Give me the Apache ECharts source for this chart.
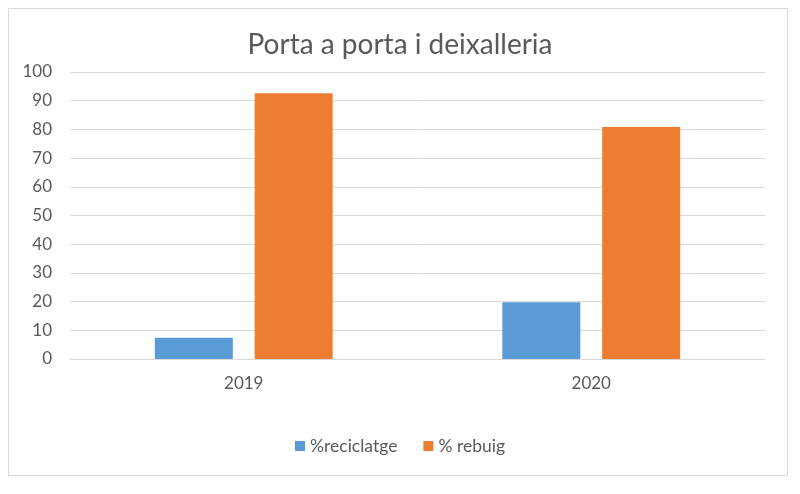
<!DOCTYPE html>
<html>
<head>
<meta charset="utf-8">
<script src="https://cdn.jsdelivr.net/npm/echarts@6/dist/echarts.min.js"></script>
<style>
html,body{margin:0;padding:0;background:#fff;}
#c{width:800px;height:494px;}
</style>
</head>
<body>
<div id="c"></div>
<script>
const categories = ['2019', '2020'];
const reciclatge = [7.4, 19.8];
const rebuig = [92.6, 80.8];
const seriesNames = ['%reciclatge', '% rebuig'];
const FONT = 'Lato';

const chart = echarts.init(document.getElementById('c'));
chart.setOption({
  backgroundColor: '#fff',
  animation: false,
  textStyle: { fontFamily: FONT },
  graphic: [{
    type: 'rect',
    shape: { x: 8.5, y: 8.5, width: 779, height: 467 },
    style: { fill: 'none', stroke: '#d9d9d9', lineWidth: 1 },
    silent: true
  }],
  title: {
    text: 'Porta a porta i deixalleria',
    left: 'center',
    top: 26,
    textStyle: { fontFamily: FONT, fontSize: 28, fontWeight: 'normal', color: '#595959' }
  },
  grid: { left: 70, right: 35, top: 72, bottom: 135, containLabel: false },
  legend: {
    data: seriesNames,
    bottom: 34,
    left: 'center',
    icon: 'rect',
    itemWidth: 10,
    itemHeight: 10,
    itemGap: 26,
    textStyle: { fontFamily: FONT, fontSize: 17.5, color: '#595959' }
  },
  xAxis: {
    type: 'category',
    data: categories,
    axisLine: { show: true, lineStyle: { color: '#d9d9d9' } },
    axisTick: { show: false },
    axisLabel: { fontFamily: FONT, fontSize: 17, color: '#595959', margin: 16 }
  },
  yAxis: {
    type: 'value',
    min: 0,
    max: 100,
    interval: 10,
    axisLine: { show: false },
    axisTick: { show: false },
    splitLine: { lineStyle: { color: '#d9d9d9' } },
    axisLabel: { fontFamily: FONT, fontSize: 17, color: '#595959', margin: 18 }
  },
  series: [
    { name: seriesNames[0], type: 'bar', data: reciclatge, barWidth: 78, barGap: '28%', itemStyle: { color: '#5b9bd5' } },
    { name: seriesNames[1], type: 'bar', data: rebuig, barWidth: 78, itemStyle: { color: '#ed7d31' } }
  ]
});
</script>
</body>
</html>
